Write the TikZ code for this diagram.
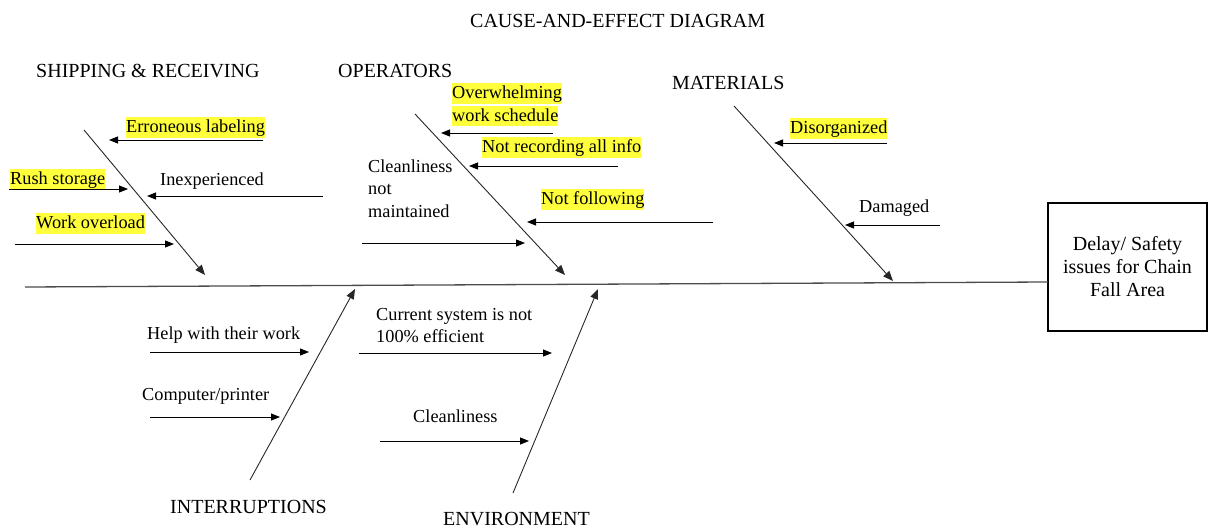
\documentclass[tikz,border=0pt]{standalone}
\usepackage{fontspec}
\setmainfont{Liberation Serif}
\usetikzlibrary{arrows.meta}
\definecolor{hly}{HTML}{FFFF3C}
\newcommand\sv{\rule[-5pt]{0pt}{20.5pt}}
\newcommand\hlt[1]{{\setlength\fboxsep{0pt}\colorbox{hly}{\sv#1}}}
\begin{document}
\begin{tikzpicture}[x=1pt,y=-1pt,
  item/.style={anchor=north west, inner sep=0pt, font=\fontsize{18.3}{22.5}\selectfont, align=left},
  hlitem/.style={item, fill=hly},
  head/.style={anchor=base west, inner sep=0pt, font=\fontsize{20}{23}\selectfont},
  bone/.style={line width=0.9pt, black!85, -{Triangle[length=10pt,width=8pt]}},
  cause/.style={line width=0.9pt, black, -{Triangle[length=9pt,width=7pt]}},
  spine/.style={line width=1.3pt, black!70},
  effectbox/.style={draw, line width=1.3pt, minimum width=159pt, minimum height=128pt,
    inner sep=0pt, align=center, font=\fontsize{20}{23}\selectfont}]
\useasboundingbox (0,0) rectangle (1209,529);

% effect box and spine
\node[effectbox] (effect) at (1127.5,267) {Delay/ Safety\\issues for Chain\\Fall Area};
\coordinate (spL) at (25,287);
\coordinate (spR) at (1048,282);
\draw[spine] (spL) -- (spR);

% headings
\node[head] (title) at (470,28) {CAUSE-AND-EFFECT DIAGRAM};
\node[head] (ship) at (36,78) {SHIPPING \& RECEIVING};
\node[head] (oper) at (338,78) {OPERATORS};
\node[head] (mat) at (672,90) {MATERIALS};
\node[head] (intr) at (170,513) {INTERRUPTIONS};
\node[head] (env) at (443,525) {ENVIRONMENT};

% bones
\coordinate (shipA) at (84,130);  \coordinate (shipB) at (205,275);
\coordinate (operA) at (415,114); \coordinate (operB) at (565,275);
\coordinate (matA) at (734,106);  \coordinate (matB) at (893,281);
\coordinate (intrA) at (250,480); \coordinate (intrB) at (355,289);
\coordinate (envA) at (513,493);  \coordinate (envB) at (598,289);
\draw[bone] (shipA) -- (shipB);
\draw[bone] (operA) -- (operB);
\draw[bone] (matA) -- (matB);
\draw[bone] (intrA) -- (intrB);
\draw[bone] (envA) -- (envB);

% labels
\node[hlitem] (err) at (126,117) {\sv Erroneous labeling};
\node[hlitem] (rush) at (10,169) {\sv Rush storage};
\node[item] (inexp) at (160,169.5) {\sv Inexperienced};
\node[hlitem] (work) at (36,213) {\sv Work overload};
\node[item] (overw) at (452,83) {\hlt{Overwhelming}\\\hlt{work schedule}};
\node[hlitem] (notrec) at (482,137) {\sv Not recording all info};
\node[hlitem] (notfol) at (541,189) {\sv Not following};
\node[item] (cleanA) at (368,156.5) {\sv Cleanliness\\\sv not\\\sv maintained};
\node[hlitem] (disorg) at (790,118) {\sv Disorganized};
\node[item] (damaged) at (859,196.5) {\sv Damaged};
\node[item] (help) at (147,323.5) {\sv Help with their work};
\node[item] (comp) at (142,384.5) {\sv Computer/printer};
\node[item] (current) at (376,304.5) {\sv Current system is not\\\sv 100\% efficient};
\node[item] (cleanB) at (413,406.5) {\sv Cleanliness};

% cause arrows
\coordinate (errT) at (263,140);   \coordinate (errH) at (109,140);
\coordinate (rushT) at (9,189);    \coordinate (rushH) at (128,189);
\coordinate (inexpT) at (323,196); \coordinate (inexpH) at (147,196);
\coordinate (workT) at (15,244);   \coordinate (workH) at (174,244);
\coordinate (overwT) at (553,133); \coordinate (overwH) at (441,133);
\coordinate (notrecT) at (618,166);\coordinate (notrecH) at (469,166);
\coordinate (notfolT) at (713,222);\coordinate (notfolH) at (527,222);
\coordinate (cleanAT) at (362,243);\coordinate (cleanAH) at (525,243);
\coordinate (disorgT) at (887,143);\coordinate (disorgH) at (774,143);
\coordinate (damT) at (940,225);   \coordinate (damH) at (845,225);
\coordinate (helpT) at (150,352);  \coordinate (helpH) at (309,352);
\coordinate (compT) at (150,417);  \coordinate (compH) at (280,417);
\coordinate (curT) at (359,353);   \coordinate (curH) at (552,353);
\coordinate (cleanBT) at (380,441);\coordinate (cleanBH) at (529,441);
\foreach \a in {err,rush,inexp,work,overw,notrec,notfol,cleanA,disorg,dam,help,comp,cur,cleanB}
  \draw[cause] (\a T) -- (\a H);
\end{tikzpicture}
\end{document}
